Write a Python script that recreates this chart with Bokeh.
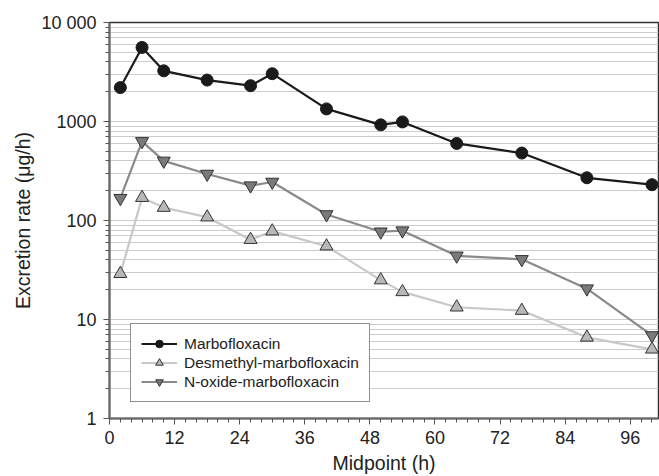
from bokeh.plotting import figure
from bokeh.models import (Range1d, FixedTicker, SingleIntervalTicker, CustomJSTickFormatter,
                          Legend, LegendItem)
from bokeh.embed import file_html
from bokeh.resources import INLINE

# ---- data ----
midpoint = [2, 6, 10, 18, 26, 30, 40, 50, 54, 64, 76, 88, 100]
marbofloxacin = [2200, 5600, 3250, 2620, 2300, 3040, 1340, 925, 990, 600, 480, 270, 230]
desmethyl = [29, 170, 135, 108, 64, 78, 55, 25, 19, 13.3, 12.3, 6.6, 5.0]
n_oxide = [168, 630, 400, 295, 225, 245, 115, 77, 79, 44, 40.5, 20.5, 6.9]
y_major = [1, 10, 100, 1000, 10000]
y_minor = [m * d for d in [1, 10, 100, 1000] for m in range(2, 10)]

FONT = "Liberation Sans"
TXT = "#222222"

p = figure(width=659, height=476, y_axis_type="log", output_backend="svg",
           toolbar_location=None, x_range=Range1d(0, 101.2), y_range=Range1d(1, 10000),
           min_border_left=109, min_border_right=1, min_border_top=22, min_border_bottom=30)

p.outline_line_color = "#333333"
p.outline_line_width = 1.5
p.background_fill_color = "white"
p.border_fill_color = "white"

# grids
p.xgrid.grid_line_color = None
p.ygrid.grid_line_color = "#cccccc"
p.ygrid.grid_line_width = 1.2
p.ygrid.minor_grid_line_color = "#cccccc"
p.ygrid.minor_grid_line_width = 1.2

# axes
p.yaxis.ticker = FixedTicker(ticks=y_major, minor_ticks=y_minor)
p.yaxis.formatter = CustomJSTickFormatter(code="""
    const v = Math.round(tick);
    return v === 10000 ? '10 000' : String(v);
""")
p.xaxis.ticker = SingleIntervalTicker(interval=12, num_minor_ticks=6)

for ax in (p.xaxis[0], p.yaxis[0]):
    ax.axis_line_color = "#666666"
    ax.axis_line_width = 2
    ax.major_tick_line_color = "#555555"
    ax.minor_tick_line_color = "#555555"
    ax.major_tick_out = 6
    ax.major_tick_in = 0
    ax.minor_tick_out = 4
    ax.minor_tick_in = 0
    ax.major_label_text_font = FONT
    ax.major_label_text_font_size = "18px"
    ax.major_label_text_color = TXT
    ax.axis_label_text_font = FONT
    ax.axis_label_text_font_size = "19.5px"
    ax.axis_label_text_font_style = "normal"
    ax.axis_label_text_color = TXT

p.xaxis.axis_label = "Midpoint (h)"
p.yaxis.axis_label = "Excretion rate (μg/h)"
p.xaxis.major_label_standoff = 6
p.xaxis.axis_label_standoff = 5
p.yaxis.major_label_standoff = 7
p.yaxis.axis_label_standoff = 4

# series
l_d = p.line(midpoint, desmethyl, line_color="#c8c8c8", line_width=2.2)
s_d = p.scatter(midpoint, desmethyl, marker="triangle", size=13,
                fill_color="#b8b8b8", line_color="#333333", line_width=1)
l_n = p.line(midpoint, n_oxide, line_color="#8a8a8a", line_width=2.2)
s_n = p.scatter(midpoint, n_oxide, marker="inverted_triangle", size=13,
                fill_color="#7a7a7a", line_color="#333333", line_width=1)
l_m = p.line(midpoint, marbofloxacin, line_color="#1a1a1a", line_width=2.2)
s_m = p.scatter(midpoint, marbofloxacin, marker="circle", size=12,
                fill_color="#1a1a1a", line_color="#1a1a1a")

legend = Legend(items=[
    LegendItem(label="Marbofloxacin", renderers=[l_m, s_m]),
    LegendItem(label="Desmethyl-marbofloxacin", renderers=[l_d, s_d]),
    LegendItem(label="N-oxide-marbofloxacin", renderers=[l_n, s_n]),
], location=(21, 16))
legend.label_text_font = FONT
legend.label_text_font_size = "15.5px"
legend.label_text_color = TXT
legend.border_line_color = "#222222"
legend.border_line_width = 1
legend.background_fill_color = "white"
legend.background_fill_alpha = 1
legend.padding = 10
legend.spacing = 0
legend.margin = 0
legend.label_height = 19
legend.glyph_height = 19
legend.glyph_width = 36
legend.label_standoff = 7
p.add_layout(legend, "center")

open("out.html", "w").write(file_html(p, INLINE))
